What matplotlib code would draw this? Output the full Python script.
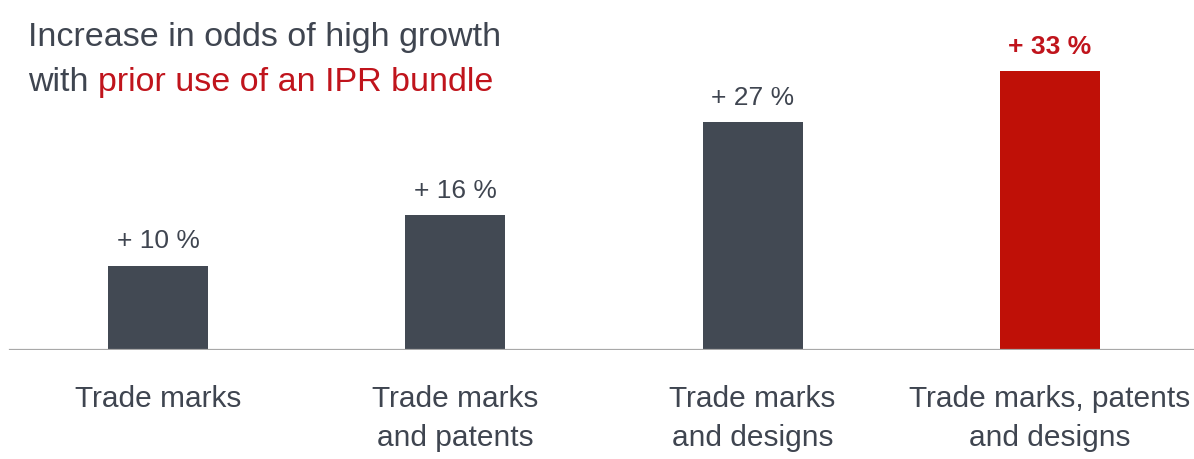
import matplotlib
matplotlib.use("Agg")
import matplotlib.pyplot as plt
from matplotlib import font_manager

names = {f.name for f in font_manager.fontManager.ttflist}
FONT = "Liberation Sans Narrow" if "Liberation Sans Narrow" in names else "Liberation Sans"
plt.rcParams["font.family"] = [FONT, "DejaVu Sans"]

categories = ["Trade marks", "Trade marks\nand patents", "Trade marks\nand designs",
              "Trade marks, patents\nand designs"]
values = [10, 16, 27, 33]
value_labels = ["+ 10 %", "+ 16 %", "+ 27 %", "+ 33 %"]
highlight = [False, False, False, True]

DARK = "#424953"
RED = "#BF1007"
TEXT = "#3F4550"
RED_TEXT = "#C0141C"

W, H = 1194, 459
fig = plt.figure(figsize=(W / 100, H / 100), dpi=100)
base_px = 350
scale = 8.45  # px per unit
ax = fig.add_axes([0, (H - base_px) / H, 1, base_px / H])
spacing = 297.3
x0 = 158
ax.set_xlim(-x0 / spacing, (W - x0) / spacing)
ax.set_ylim(0, base_px / scale)

xs = list(range(len(values)))
colors = [RED if h else DARK for h in highlight]
bars = ax.bar(xs, values, width=100 / spacing, color=colors, zorder=2)

for x, v, lab, h in zip(xs, values, value_labels, highlight):
    ax.annotate(lab, (x, v), xytext=(0, 12), textcoords="offset pixels",
                ha="center", va="bottom", fontsize=19,
                color=RED_TEXT if h else TEXT,
                fontweight="bold" if h else "normal", annotation_clip=False)

ax.axhline(0, xmin=10 / W, xmax=1, color="#A8A8A8", lw=1.6, zorder=3)

for s in ax.spines.values():
    s.set_visible(False)
ax.set_yticks([])
ax.set_xticks(xs)
ax.set_xticklabels(categories, fontsize=21.5, color=TEXT, linespacing=1.5)
ax.tick_params(axis="x", length=0, pad=25)

fig.text(28 / W, 1 - 46 / H, "Increase in odds of high growth", fontsize=24.5,
         color=TEXT, ha="left", va="baseline")
t1 = fig.text(28 / W, 1 - 91 / H, "with ", fontsize=24.5, color=TEXT,
              ha="left", va="baseline")
fig.canvas.draw()
bb = t1.get_window_extent()
fig.text(bb.x1 / W, 1 - 91 / H, "prior use of an IPR bundle", fontsize=24.5,
         color=RED_TEXT, ha="left", va="baseline")

fig.savefig("out.png", dpi=100)
